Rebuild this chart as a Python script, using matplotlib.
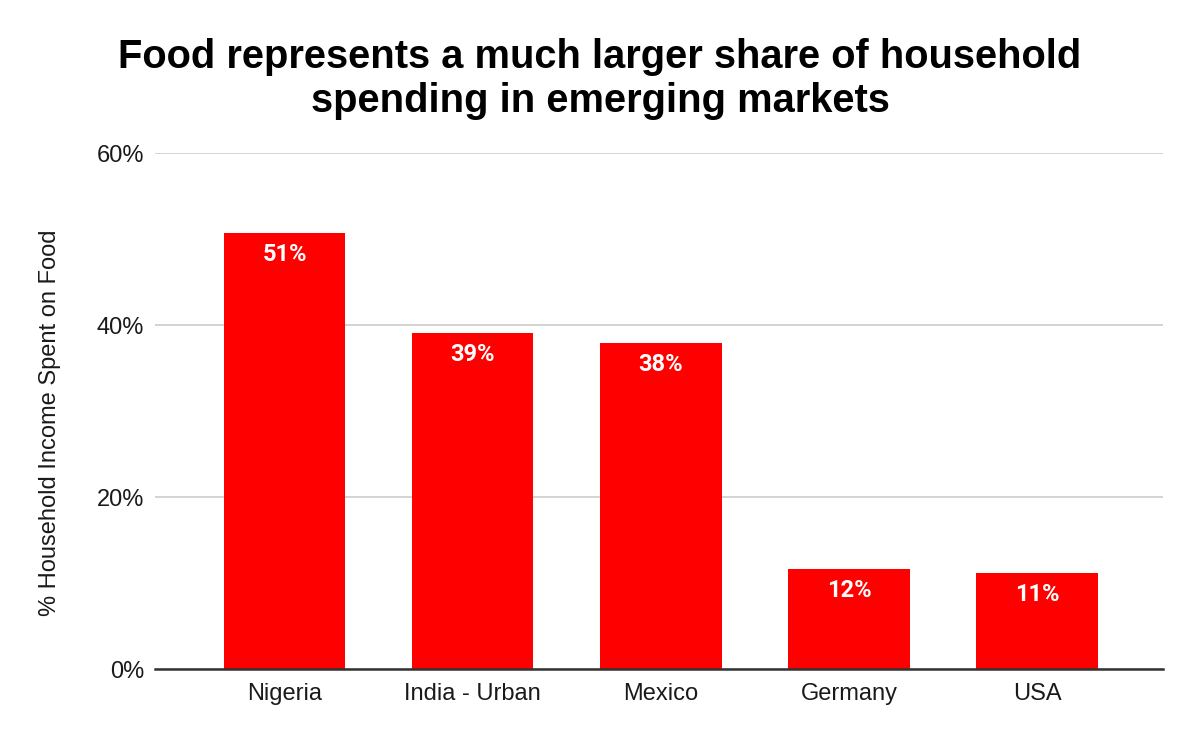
import matplotlib
matplotlib.use("Agg")
import matplotlib.pyplot as plt

categories = ["Nigeria", "India - Urban", "Mexico", "Germany", "USA"]
values = [50.7, 39.1, 37.9, 11.6, 11.2]
labels = ["51%", "39%", "38%", "12%", "11%"]
yticks = [0, 20, 40, 60]
ytick_labels = ["0%", "20%", "40%", "60%"]

plt.rcParams['font.family'] = ['Liberation Sans', 'DejaVu Sans']

fig = plt.figure(figsize=(12, 7.42), dpi=100)
ax = fig.add_axes([155/1200, 1-669/742, (1163-155)/1200, (669-153)/742])

x = list(range(len(categories)))
bars = ax.bar(x, values, width=0.645, color="#ff0000", zorder=3)

for xi, v, lab in zip(x, values, labels):
    ax.text(xi, v - 1.15, lab, ha="center", va="top", color="white",
            fontsize=17, fontweight="bold", family=["Roboto", "DejaVu Sans"], zorder=4)

ax.set_xlim(-0.69, 4.67)
ax.set_ylim(0, 60)
ax.set_yticks(yticks)
ax.set_yticklabels(ytick_labels)
ax.set_xticks(x)
ax.set_xticklabels(categories)
ax.tick_params(axis="both", length=0, labelsize=17, colors="#1a1a1a")
ax.tick_params(axis="x", pad=10)
ax.tick_params(axis="y", pad=8)
ax.yaxis.grid(True, color="#cccccc", linewidth=1.2, zorder=0)
for s in ["top", "right", "left"]:
    ax.spines[s].set_visible(False)
ax.spines["bottom"].set_color("#333333")
ax.spines["bottom"].set_linewidth(1.8)
ax.spines["bottom"].set_zorder(5)

ax.set_ylabel("% Household Income Spent on Food", fontsize=17, color="#1a1a1a")
ax.yaxis.set_label_coords(-0.093, 0.477)

fig.text(0.5, 1-79/742, "Food represents a much larger share of household\nspending in emerging markets",
         ha="center", va="center", fontsize=28.7, fontweight="bold", linespacing=1.17)

fig.savefig("out.png", dpi=100)
